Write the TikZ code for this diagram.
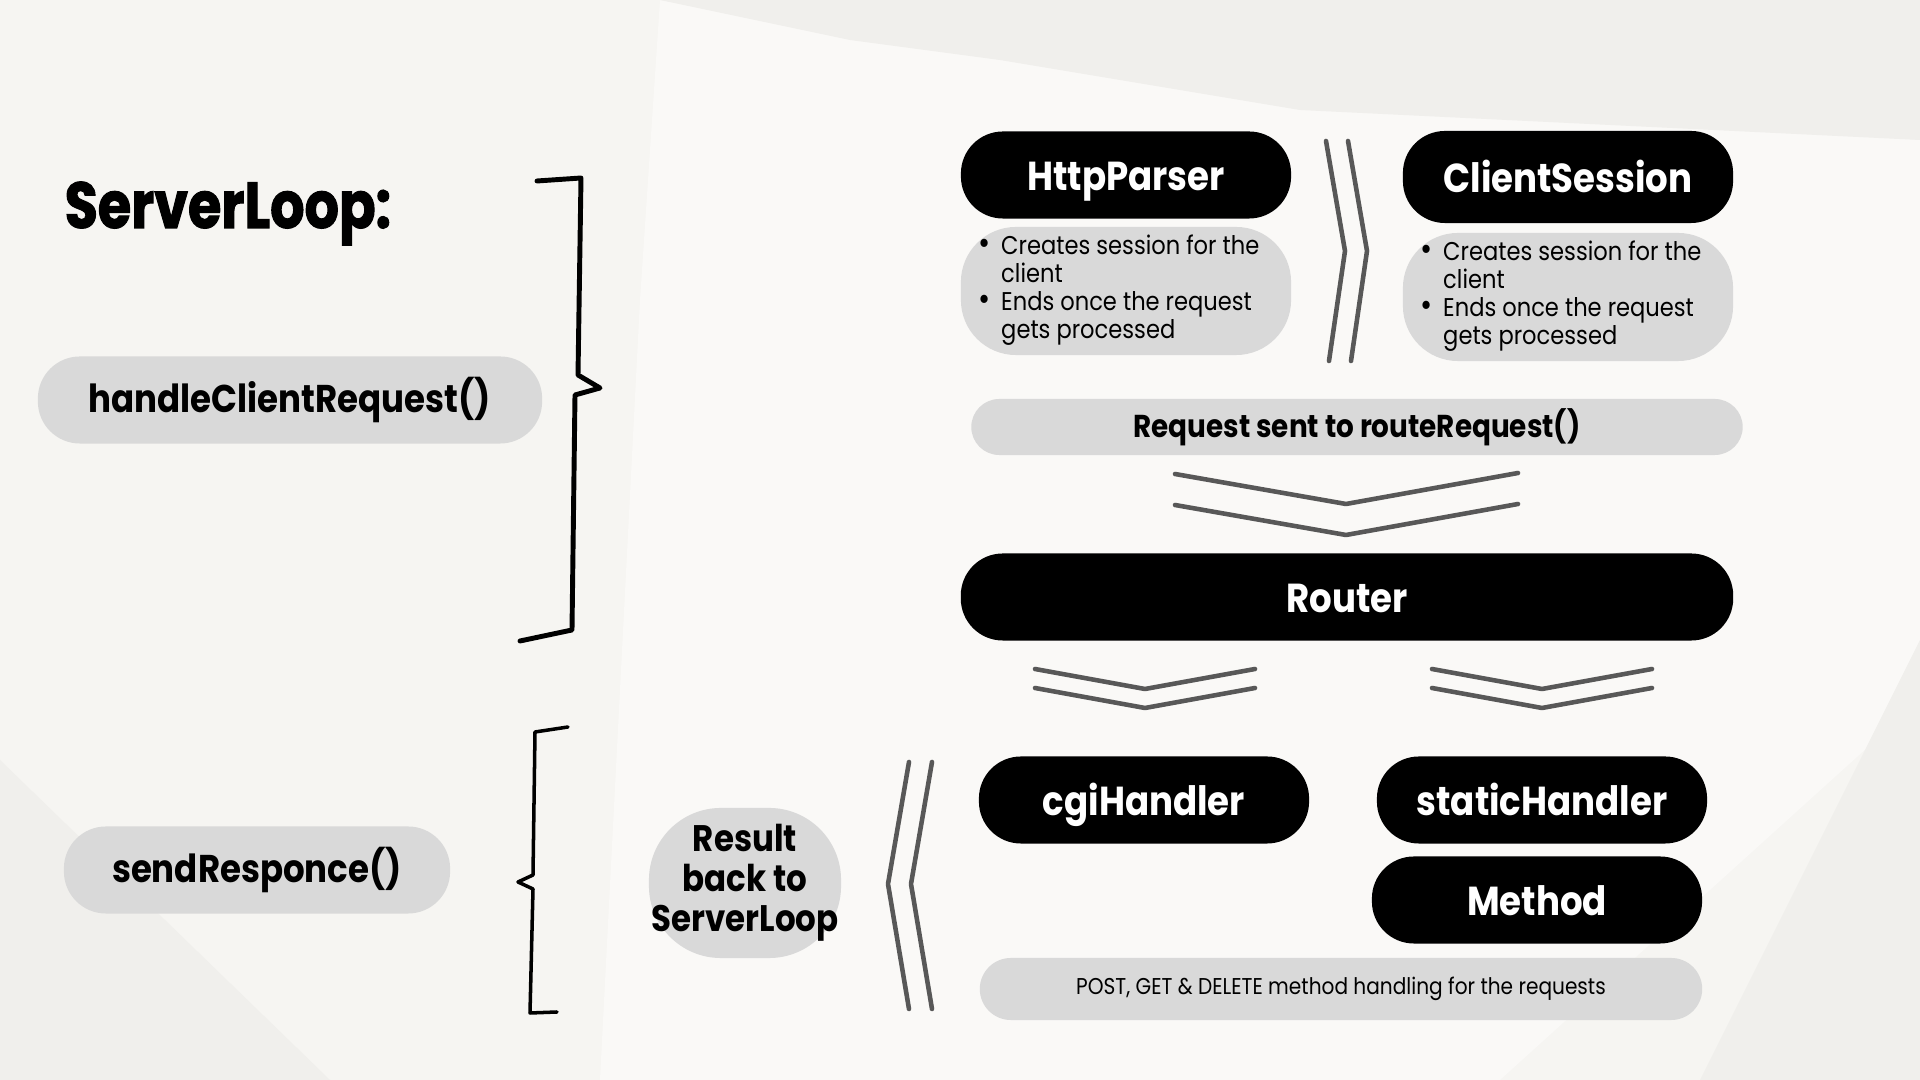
\documentclass[tikz,border=0pt]{standalone}
\usepackage{fontspec}
\setmainfont{Poppins}[FakeStretch=0.88]
\newfontfamily\titlefont{Poppins}[FakeStretch=0.83,BoldFeatures={FakeBold=1.6}]
\usetikzlibrary{calc,positioning}
\definecolor{Paper}{HTML}{F6F5F2}
\definecolor{PaperDark}{HTML}{F0EFEC}
\definecolor{PaperLight}{HTML}{FAF9F7}
\definecolor{Pill}{HTML}{D9D9D9}
\definecolor{Chevron}{HTML}{585858}
\newcommand{\bigbul}{{\fontsize{9.5}{8}\selectfont\textbullet}}

\begin{document}
\begin{tikzpicture}[x=0.01cm,y=-0.01cm,
  every node/.style={align=center,inner sep=0pt},
  darkpill/.style={fill=black,text=white,rounded corners=0.42cm,minimum width=3.3cm,minimum height=0.87cm,font=\fontsize{11.5}{13}\selectfont\bfseries,text height=0.88em,text depth=0pt},
  greypill/.style={fill=Pill,text=black,rounded corners=0.42cm,minimum height=0.87cm,font=\fontsize{11}{13}\selectfont\bfseries},
  notebox/.style={fill=Pill,rounded corners=0.55cm,minimum width=3.3cm,minimum height=1.28cm,font=\fontsize{7.3}{8}\selectfont},
  chev/.style={draw=Chevron,line width=1.3pt,line cap=round,line join=round},
  brace/.style={draw=black,line width=1.4pt,line cap=round,line join=round}]
  % paper
  \fill[Paper] (0,0) rectangle (1920,1080);
  \useasboundingbox (0,0) rectangle (1920,1080);
  \fill[PaperLight] (660,0) -- (640,300) -- (600,1080) -- (1500,1080) -- (1920,700) -- (1920,140) -- (1000,60) -- cycle;
  \fill[PaperDark] (660,0) -- (1920,0) -- (1920,140) -- (1300,110) -- (1000,60) -- (850,40) -- cycle;
  \fill[PaperDark] (0,760) -- (330,1080) -- (0,1080) -- cycle;
  \fill[PaperDark] (1920,640) -- (1920,1080) -- (1700,1080) -- cycle;

  % left column
  \node[font={\titlefont\bfseries\fontsize{18.5}{22}\selectfont},anchor=base west] (title) at (64,228) {ServerLoop:};
  \node[greypill,minimum width=5.04cm] (handle) at (290,400) {handleClientRequest()};
  \node[greypill,minimum width=3.86cm] (send) at (257,870) {sendResponce()};
  \node[fill=Pill,rounded corners=0.72cm,minimum width=1.92cm,minimum height=1.5cm,font=\fontsize{10.5}{11.4}\selectfont\bfseries] (result) at (745,883) {Result\\back to\\ServerLoop};

  % braces
  \draw[brace] (537,181) -- (581,178) -- (578,375) -- (600,388) -- (575,395) -- (572,630) -- (520,641);
  \draw[brace,line width=1pt] (568,727) -- (535,732) -- (533,875) -- (518,882) -- (533,889) -- (530,1013) -- (557,1012);

  % parser and session
  \node[darkpill] (parser) at (1126,175) {HttpParser};
  \node[notebox] (parsernote) at (1126,291) {\begin{tabular}{@{}l@{\hspace{3pt}}l@{\hspace{4pt}}}\bigbul & Creates session for the\\ & client\\ \bigbul & Ends once the request\\ & gets processed\end{tabular}};
  \node[darkpill,minimum height=0.92cm] (session) at (1568,177) {ClientSession};
  \node[notebox] (sessionnote) at (1568,297) {\begin{tabular}{@{}l@{\hspace{3pt}}l@{\hspace{4pt}}}\bigbul & Creates session for the\\ & client\\ \bigbul & Ends once the request\\ & gets processed\end{tabular}};
  \foreach \d in {0,22}
    \draw[chev] (1326+\d,141) -- (1345+\d,251) -- (1329+\d,361);

  % routing
  \node[greypill,minimum width=7.71cm,minimum height=0.56cm,rounded corners=0.28cm,font=\fontsize{9}{11}\selectfont\bfseries] (req) at (1357,427) {Request sent to routeRequest()};
  \foreach \d in {0,31}
    \draw[chev] (1175,474+\d) -- (1346,504+\d) -- (1518,473+\d);
  \node[darkpill,minimum width=7.72cm] (router) at (1347,597) {Router};
  \foreach \x in {1145,1542}
    \foreach \d in {0,19}
      \draw[chev] (\x-110,669+\d) -- (\x,689+\d) -- (\x+110,669+\d);

  % handlers
  \node[darkpill] (cgi) at (1144,800) {cgiHandler};
  \node[darkpill] (static) at (1542,800) {staticHandler};
  \node[darkpill] (method) at (1537,900) {Method};
  \node[greypill,minimum width=7.22cm,minimum height=0.62cm,rounded corners=0.31cm,font=\fontsize{6.5}{8}\selectfont] (post) at (1341,989) {POST, GET \& DELETE method handling for the requests};
  \foreach \d in {0,23}
    \draw[chev] (909+\d,762) -- (888+\d,884) -- (909+\d,1009);
\end{tikzpicture}
\end{document}
